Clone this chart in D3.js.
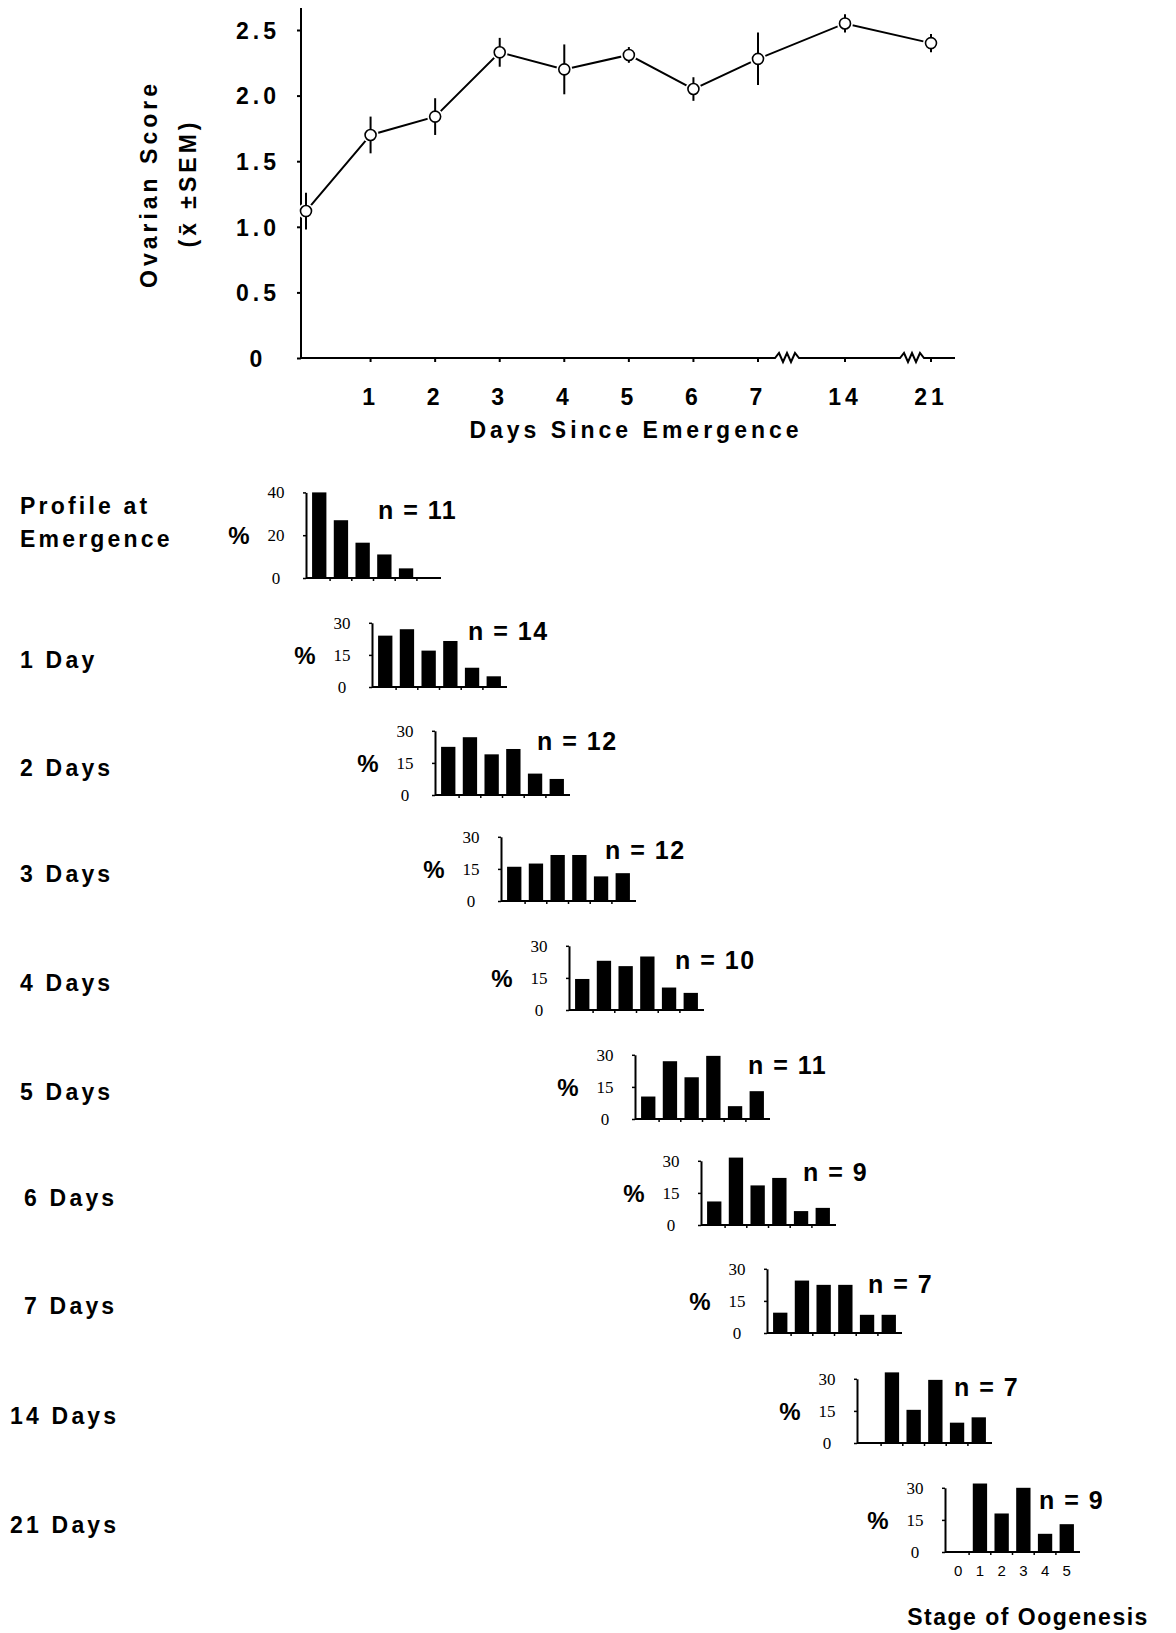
<html>
<script src="https://d3js.org/d3.v7.min.js"></script>
<body style="margin:0; background:#fff">
<style>
    text { font-family: "Liberation Sans", Arial, sans-serif; fill: #000; }
    .big { font-size: 23px; font-weight: bold; letter-spacing: 4px; }
    .row { font-size: 23px; font-weight: bold; letter-spacing: 3.2px; }
    .nlab { font-size: 25px; font-weight: bold; letter-spacing: 1.5px; }
    .pct { font-size: 24px; font-weight: bold; }
    .small { font-family: "Liberation Serif", serif; font-size: 17px; }
</style>
<svg width=1176 height=1633></svg>
<script>

// ---- top panel: ovarian score by day ----
var days = [0, 1, 2, 3, 4, 5, 6, 7, 14, 21];
var scoreMean = [1.12, 1.70, 1.84, 2.33, 2.20, 2.31, 2.05, 2.28, 2.55, 2.40];
var scoreSem = [0.14, 0.14, 0.14, 0.11, 0.19, 0.06, 0.09, 0.20, 0.07, 0.07];
var scoreTicks = [0, 0.5, 1.0, 1.5, 2.0, 2.5];
var dayTicks = [1, 2, 3, 4, 5, 6, 7, 14, 21];

// ---- profiles: % of ovaries at each stage of oogenesis ----
var stages = [0, 1, 2, 3, 4, 5];
var rowLabels = [["Profile at", "Emergence"], ["1 Day"], ["2 Days"], ["3 Days"], ["4 Days"],
                 ["5 Days"], ["6 Days"], ["7 Days"], ["14 Days"], ["21 Days"]];
var sampleSizes = [11, 14, 12, 12, 10, 11, 9, 7, 7, 9];
var pctMax = [40, 30, 30, 30, 30, 30, 30, 30, 30, 30];
var pctEmergence = [40, 27, 16.5, 11, 4.5, 0];
var pctDay1 = [24, 27, 17, 21.5, 9, 5];
var pctDay2 = [22.5, 27, 19, 21.5, 10, 7.5];
var pctDay3 = [16, 17.5, 21.5, 21.5, 11.5, 13];
var pctDay4 = [14.5, 23, 20.5, 25, 10.5, 8];
var pctDay5 = [10.5, 27, 19.5, 29.5, 6, 13];
var pctDay6 = [11, 31.5, 18.5, 22, 6.5, 8];
var pctDay7 = [9.5, 24.5, 22.5, 22.5, 8.5, 8.5];
var pctDay14 = [0, 33, 15.5, 29.5, 9.5, 12];
var pctDay21 = [0, 32, 18, 30, 8.5, 13];
var profiles = [pctEmergence, pctDay1, pctDay2, pctDay3, pctDay4, pctDay5, pctDay6, pctDay7, pctDay14, pctDay21];

// layout
var panelX = [306, 372, 435, 501, 569, 635, 701, 767, 857, 945];
var panelBase = [578, 687, 795, 901, 1010, 1119, 1225, 1333, 1443, 1552];
var labelX = [20, 20, 20, 20, 20, 20, 24, 24, 10, 10];
var nDx = [72, 96, 102, 104, 106, 113, 102, 101, 97, 94];
var nDy = [-68, -56, -54, -51, -50, -54, -53, -49, -56, -52];
var pxPerPct = 2.14;

var svg = d3.select("svg");

var xDay = d3.scaleLinear().domain([0, 7, 14, 21]).range([306, 758, 845, 931]);
var yScore = d3.scaleLinear().domain([0, 2.5]).range([358, 30]);
var axisX = 301;

// y axis
var yAx = svg.append("g")
    .attr("transform", "translate(" + axisX + ",0)")
    .call(d3.axisLeft(yScore).tickValues(scoreTicks).tickSize(4).tickSizeOuter(0)
        .tickFormat(function(d) { return d == 0 ? "0" : d3.format(".1f")(d); }));
yAx.select(".domain").remove();
yAx.selectAll("line").attr("stroke-width", 2);
yAx.selectAll("text")
    .attr("class", "big")
    .attr("x", -43)
    .attr("text-anchor", "middle")
    .attr("dy", "0.36em");

svg.append("line")
    .attr("x1", axisX).attr("x2", axisX)
    .attr("y1", yScore(0)).attr("y2", 8)
    .attr("stroke", "black").attr("stroke-width", 2);

// x axis baseline with breaks
var breaks = [787, 912];
var zig = [0, -5, 4, -5, 4, -5, 0];
var basePts = [[axisX, yScore(0)]];
breaks.forEach(function(b) {
    zig.forEach(function(o, k) { basePts.push([b - 12 + k * 4, yScore(0) + o]); });
});
basePts.push([955, yScore(0)]);
svg.append("path")
    .attr("d", d3.line()(basePts))
    .attr("fill", "none").attr("stroke", "black").attr("stroke-width", 2);

svg.append("g").selectAll("line").data(dayTicks).enter().append("line")
    .attr("x1", function(d) { return xDay(d); }).attr("x2", function(d) { return xDay(d); })
    .attr("y1", yScore(0)).attr("y2", yScore(0) + 4)
    .attr("stroke", "black").attr("stroke-width", 2);

svg.append("g").selectAll("text").data(dayTicks).enter().append("text")
    .attr("class", "big")
    .attr("x", function(d) { return xDay(d); })
    .attr("y", 397).attr("dy", "0.36em")
    .attr("text-anchor", "middle")
    .text(function(d) { return d; });

svg.append("text").attr("class", "big")
    .attr("x", 636).attr("y", 430).attr("dy", "0.36em")
    .attr("text-anchor", "middle")
    .text("Days Since Emergence");

svg.append("text").attr("class", "big")
    .attr("transform", "translate(149,184) rotate(-90)")
    .attr("dy", "0.36em").attr("text-anchor", "middle")
    .text("Ovarian Score");
svg.append("text").attr("class", "big")
    .attr("transform", "translate(188,183) rotate(-90)")
    .attr("dy", "0.36em").attr("text-anchor", "middle")
    .text("(x\u0304 \u00b1SEM)");

// mean line + error bars
var scoreData = days.map(function(d, i) { return { day: d, mean: scoreMean[i], sem: scoreSem[i] }; });

svg.append("path")
    .datum(scoreData)
    .attr("d", d3.line()
        .x(function(d) { return xDay(d.day); })
        .y(function(d) { return yScore(d.mean); }))
    .attr("fill", "none").attr("stroke", "black").attr("stroke-width", 2);

svg.append("g").selectAll("circle").data(scoreData).enter().append("circle")
    .attr("cx", function(d) { return xDay(d.day); })
    .attr("cy", function(d) { return yScore(d.mean); })
    .attr("r", 8).attr("fill", "white");

svg.append("g").selectAll("line").data(scoreData).enter().append("line")
    .attr("x1", function(d) { return xDay(d.day); }).attr("x2", function(d) { return xDay(d.day); })
    .attr("y1", function(d) { return yScore(d.mean - d.sem); })
    .attr("y2", function(d) { return yScore(d.mean + d.sem); })
    .attr("stroke", "black").attr("stroke-width", 2);

svg.append("g").selectAll("circle").data(scoreData).enter().append("circle")
    .attr("cx", function(d) { return xDay(d.day); })
    .attr("cy", function(d) { return yScore(d.mean); })
    .attr("r", 5.5).attr("fill", "white").attr("stroke", "black").attr("stroke-width", 1.6);

// ---- small histograms ----
profiles.forEach(function(pct, i) {
    var x0 = panelX[i], base = panelBase[i], top = pctMax[i];
    var x = d3.scaleBand().domain(stages).range([x0, x0 + 135]).paddingInner(0.34).paddingOuter(0.28);
    var y = d3.scaleLinear().domain([0, top]).range([base, base - top * pxPerPct]);
    var ticks = [0, top / 2, top];
    var g = svg.append("g");

    g.selectAll("rect").data(pct).enter().append("rect")
        .attr("x", function(d, j) { return x(stages[j]); })
        .attr("y", function(d) { return y(d); })
        .attr("width", x.bandwidth())
        .attr("height", function(d) { return base - y(d); })
        .attr("fill", "black");

    var ya = g.append("g")
        .attr("transform", "translate(" + x0 + ",0)")
        .call(d3.axisLeft(y).tickValues(ticks).tickSize(3).tickSizeOuter(0));
    ya.select(".domain").attr("stroke-width", 2);
    ya.selectAll("line").attr("stroke-width", 1.5);
    ya.selectAll("text")
        .attr("class", "small")
        .attr("x", -30)
        .attr("text-anchor", "middle");

    var xa = g.append("g")
        .attr("transform", "translate(0," + base + ")")
        .call(d3.axisBottom(x).tickSize(0).tickSizeOuter(0).tickPadding(13));
    xa.select(".domain").attr("d", "M" + x0 + ",0H" + (x0 + 135)).attr("stroke-width", 2);
    if (i < profiles.length - 1) {
        xa.selectAll("text").remove();
    } else {
        xa.selectAll("text").attr("font-size", 15).attr("font-family", "Liberation Sans, Arial, sans-serif");
    }

    g.selectAll(".gap").data(stages.slice(1)).enter().append("line")
        .attr("x1", function(s) { return x(s) - x.step() * x.paddingInner() / 2; })
        .attr("x2", function(s) { return x(s) - x.step() * x.paddingInner() / 2; })
        .attr("y1", base).attr("y2", base + 3)
        .attr("stroke", "black").attr("stroke-width", 1.5);

    g.append("text").attr("class", "pct")
        .attr("x", x0 - 67).attr("y", y(top / 2)).attr("dy", "0.36em")
        .attr("text-anchor", "middle")
        .text("%");

    g.append("text").attr("class", "nlab")
        .attr("x", x0 + nDx[i]).attr("y", base + nDy[i]).attr("dy", "0.36em")
        .text("n = " + sampleSizes[i]);

    var lines = rowLabels[i];
    var mid = lines.length == 1 ? base - 27 : base - 56;
    lines.forEach(function(t, k) {
        g.append("text").attr("class", "row")
            .attr("x", labelX[i])
            .attr("y", mid + (k - (lines.length - 1) / 2) * 33.5)
            .attr("dy", "0.36em")
            .text(t);
    });
});

svg.append("text").attr("class", "big")
    .style("letter-spacing", "1.5px")
    .attr("x", 1028).attr("y", 1617).attr("dy", "0.36em")
    .attr("text-anchor", "middle")
    .text("Stage of Oogenesis");

</script>
</body>
</html>
